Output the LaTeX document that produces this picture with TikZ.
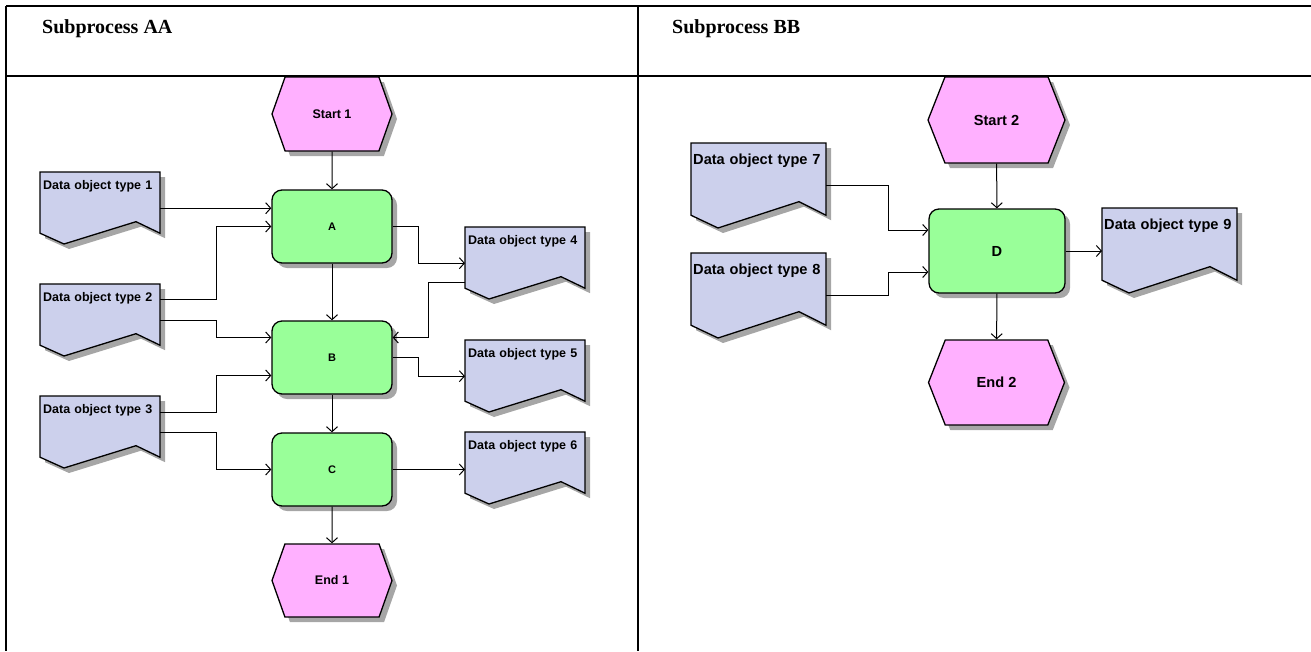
\documentclass[tikz,border=0pt]{standalone}
\usepackage{fontspec}
\setmainfont{Liberation Sans}
\newfontfamily\headfont{Liberation Serif}
\usepackage{tikz}
\usetikzlibrary{arrows.meta,shapes.symbols,shadows,backgrounds}

\definecolor{evpink}{RGB}{255,176,255}
\definecolor{fngreen}{RGB}{153,255,153}
\definecolor{dolilac}{RGB}{204,208,236}

\tikzset{
  frame/.style={line width=1.2pt},
  head/.style={anchor=base west,inner sep=0pt,font=\headfont\bfseries\fontsize{20}{24}\selectfont},
  dropsh/.style={drop shadow={shadow xshift=5pt,shadow yshift=-5pt,fill=black!35,opacity=1}},
  flow/.style={->,line width=1pt},
  event/.style={shape=signal,signal to=west and east,draw,line width=1.3pt,fill=evpink,dropsh,inner sep=0pt},
  func/.style={shape=rectangle,rounded corners=10pt,draw,line width=1.3pt,fill=fngreen,dropsh},
  dobj/.style={shape=rectangle,anchor=north west,align=left},
  dshape/.style={draw,line width=1.3pt,fill=dolilac,dropsh,line join=miter},
  smallfont/.style={font=\bfseries\fontsize{12.5}{14}\selectfont},
  bigfont/.style={font=\bfseries\fontsize{14.6}{17}\selectfont},
  dobjA/.style={dobj,smallfont,inner xsep=3pt,text width=114pt,text height=12pt,text depth=50pt,inner ysep=5pt},
  dobjB/.style={dobj,bigfont,inner xsep=2pt,text width=131pt,text height=13pt,text depth=56pt,inner ysep=8pt}
}

\begin{document}
\begin{tikzpicture}[x=1pt,y=-1pt,>={Straight Barb[length=5pt,width=11pt]}]
  \useasboundingbox (0,0) rectangle (1311,651);

  % table
  \draw[frame] (6,6) -- (1311,6);
  \draw[frame] (6,76) -- (1311,76);
  \draw[frame] (6,6) -- (6,651);
  \draw[frame] (638,6) -- (638,651);
  \node[head] (hAA) at (42,33) {Subprocess AA};
  \node[head] (hBB) at (672,33) {Subprocess BB};

  % Subprocess AA
  \node[event,smallfont,minimum width=120pt,minimum height=74pt,signal pointer angle=141] (s1) at (332,114) {Start 1};
  \node[func,font=\bfseries\fontsize{11}{13}\selectfont,minimum width=120pt,minimum height=73pt] (A) at (332,226.5) {A};
  \node[func,font=\bfseries\fontsize{11}{13}\selectfont,minimum width=120pt,minimum height=73pt] (B) at (332,357.5) {B};
  \node[func,font=\bfseries\fontsize{11}{13}\selectfont,minimum width=120pt,minimum height=73pt] (C) at (332,469.5) {C};
  \node[event,smallfont,minimum width=120pt,minimum height=73pt,signal pointer angle=141] (e1) at (332,580.5) {End 1};

  \node[dobjA] (d1) at (40,172) {Data object type 1};
  \node[dobjA] (d2) at (40,284) {Data object type 2};
  \node[dobjA] (d3) at (40,396) {Data object type 3};
  \node[dobjA] (d4) at (465,227) {Data object type 4};
  \node[dobjA] (d5) at (465,340) {Data object type 5};
  \node[dobjA] (d6) at (465,432) {Data object type 6};

  % Subprocess BB
  \node[event,bigfont,minimum width=137pt,minimum height=86pt,signal pointer angle=137] (s2) at (996.5,120) {Start 2};
  \node[func,bigfont,minimum width=136pt,minimum height=84pt] (D) at (997,251) {D};
  \node[event,bigfont,minimum width=136pt,minimum height=85pt,signal pointer angle=137] (e2) at (996.5,382.5) {End 2};

  \node[dobjB] (d7) at (691,143) {Data object type 7};
  \node[dobjB] (d8) at (691,253) {Data object type 8};
  \node[dobjB] (d9) at (1102,208) {Data object type 9};

  % data object outlines
  \begin{pgfonlayer}{background}
    \foreach \n/\w/\h in {d1/120/72,d2/120/72,d3/120/72,d4/120/72,d5/120/72,d6/120/72,d7/135/85,d8/135/85,d9/135/85}
      \draw[dshape,shift={(\n.north west)}] (0,0) -- (\w,0) -- (\w,0.85*\h) -- (0.8*\w,0.69*\h) -- (0.2*\w,\h) -- (0,0.85*\h) -- cycle;
  \end{pgfonlayer}

  % control flow AA
  \draw[flow] (s1) -- (A);
  \draw[flow] (A) -- (B);
  \draw[flow] (B) -- (C);
  \draw[flow] (C) -- (e1);

  \draw[flow] (d1.east) -- (d1.east -| A.west);
  \draw[flow] ([yshift=21pt]d2.east) -- ++(56,0) |- (A.west);
  \draw[flow] (d2.east) -- ++(56,0) |- ([yshift=20pt]B.west);
  \draw[flow] ([yshift=20pt]d3.east) -- ++(56,0) |- ([yshift=-18pt]B.west);
  \draw[flow] (d3.east) -- ++(56,0) |- (C.west);
  \draw[flow] (A.east) -- ++(26,0) |- (d4.west);
  \draw[flow] ([yshift=-19pt]d4.west) -- ++(-37,0) |- ([yshift=20pt]B.east);
  \draw[flow] (B.east) -- ++(26,0) |- (d5.west);
  \draw[flow] (C.east) -- (C.east -| d6.west);

  % control flow BB
  \draw[flow] (s2) -- (D);
  \draw[flow] (D) -- (e2);
  \draw[flow] (d7.east) -- ++(62,0) |- ([yshift=21pt]D.west);
  \draw[flow] (d8.east) -- ++(62,0) |- ([yshift=-21pt]D.west);
  \draw[flow] (D.east) -- (D.east -| d9.west);
\end{tikzpicture}
\end{document}
